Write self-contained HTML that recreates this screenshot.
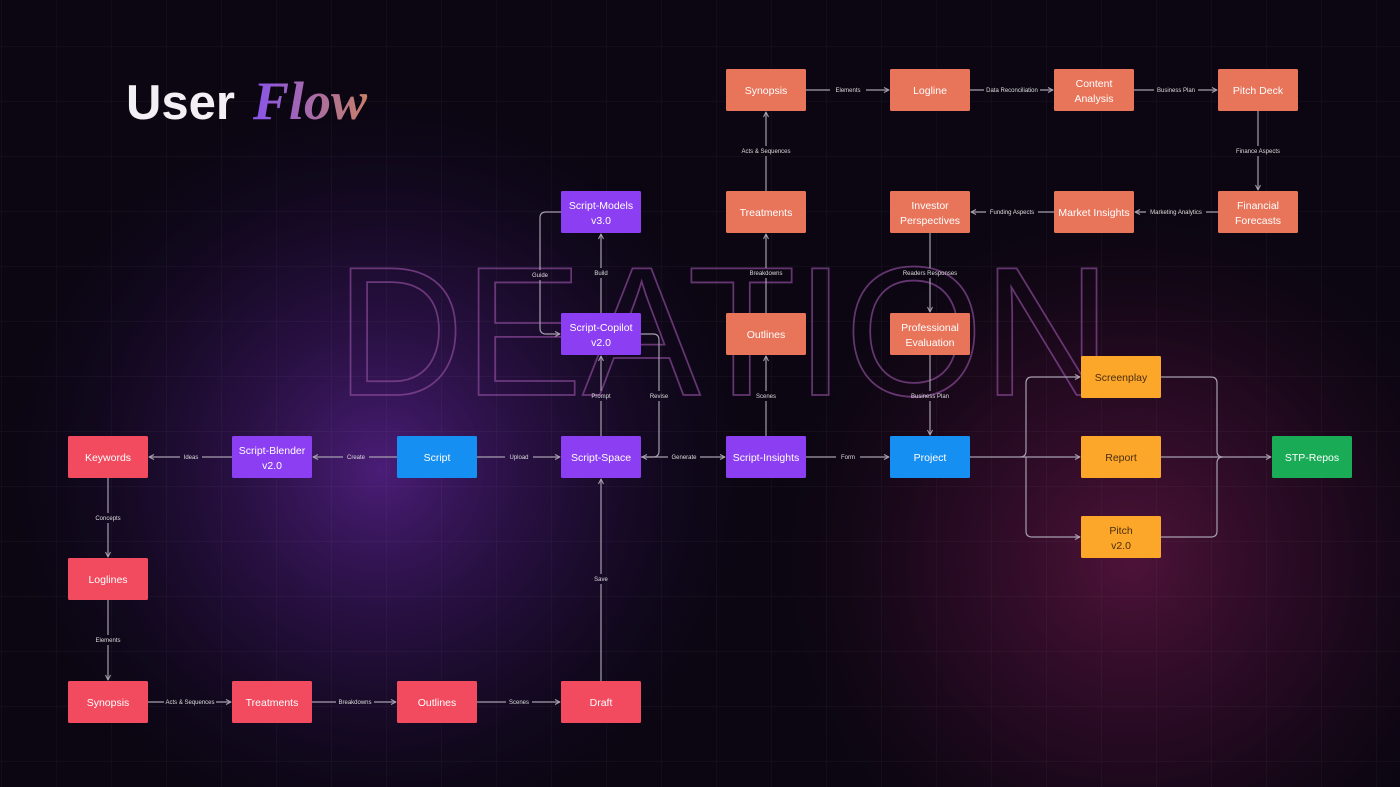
<!DOCTYPE html>
<html><head><meta charset="utf-8"><style>
html,body{margin:0;padding:0;background:#0b0612;}
svg{display:block}
.bx text{font-family:"Liberation Sans",sans-serif;font-size:10.5px;fill:#fff;text-anchor:middle;font-weight:400}
.lb{font-family:"Liberation Sans",sans-serif;font-size:6px;fill:#ddd;text-anchor:middle}
</style></head><body>
<svg width="1400" height="787" viewBox="0 0 1400 787" xmlns="http://www.w3.org/2000/svg">
<defs>
<radialGradient id="g1" cx="380" cy="470" r="380" gradientUnits="userSpaceOnUse">
<stop offset="0" stop-color="#5a2390" stop-opacity="0.8"/><stop offset="0.5" stop-color="#3a1660" stop-opacity="0.45"/><stop offset="1" stop-color="#1a0a30" stop-opacity="0"/></radialGradient>
<radialGradient id="g2" cx="1130" cy="560" r="360" gradientUnits="userSpaceOnUse">
<stop offset="0" stop-color="#5a1540" stop-opacity="0.85"/><stop offset="0.55" stop-color="#3a0d2e" stop-opacity="0.5"/><stop offset="1" stop-color="#200818" stop-opacity="0"/></radialGradient>
<linearGradient id="tf" x1="256" y1="0" x2="372" y2="0" gradientUnits="userSpaceOnUse">
<stop offset="0" stop-color="#8a55e8"/><stop offset="1" stop-color="#c98262"/></linearGradient>
<pattern id="grid" width="55" height="55" patternUnits="userSpaceOnUse" x="2" y="-8">
<path d="M55 0V55M0 55H55" fill="none" stroke="#ffffff" stroke-opacity="0.06" stroke-width="1"/></pattern>
<marker id="ar" viewBox="0 0 6 6" refX="5.5" refY="3" markerWidth="6" markerHeight="6" orient="auto" markerUnits="userSpaceOnUse">
<path d="M0.5 0.5L5.5 3L0.5 5.5" fill="none" stroke="#aaa3b0" stroke-width="1"/></marker>
<mask id="m" maskUnits="userSpaceOnUse" x="0" y="0" width="1400" height="787">
<rect width="1400" height="787" fill="#fff"/>
<g fill="#000">
<rect x="180" y="452" width="22" height="10"/><rect x="343" y="452" width="26" height="10"/><rect x="505" y="452" width="28" height="10"/>
<rect x="668" y="452" width="32" height="10"/><rect x="836" y="452" width="24" height="10"/>
<rect x="92" y="513" width="32" height="10"/><rect x="92" y="635" width="32" height="10"/>
<rect x="164" y="697" width="52" height="10"/><rect x="336" y="697" width="38" height="10"/><rect x="506" y="697" width="26" height="10"/>
<rect x="590" y="574" width="22" height="10"/><rect x="588" y="391" width="26" height="10"/><rect x="646" y="391" width="26" height="10"/>
<rect x="590" y="268" width="22" height="10"/><rect x="528" y="270" width="24" height="10"/>
<rect x="752" y="391" width="28" height="10"/><rect x="747" y="268" width="38" height="10"/><rect x="739" y="146" width="54" height="10"/>
<rect x="830" y="85" width="36" height="10"/><rect x="984" y="85" width="56" height="10"/><rect x="1154" y="85" width="44" height="10"/>
<rect x="1232" y="146" width="52" height="10"/><rect x="1146" y="207" width="60" height="10"/><rect x="986" y="207" width="52" height="10"/>
<rect x="900" y="268" width="60" height="10"/><rect x="908" y="391" width="44" height="10"/>
</g></mask>
</defs>
<rect width="1400" height="787" fill="#0b0612"/>
<rect width="1400" height="787" fill="url(#g1)"/>
<rect width="1400" height="787" fill="url(#g2)"/>
<rect width="1400" height="787" fill="url(#grid)"/>

<text x="336" y="395" textLength="775" lengthAdjust="spacingAndGlyphs" font-family="Liberation Sans,sans-serif" font-size="184" fill="none" stroke="#8a4a98" stroke-opacity="0.7" stroke-width="1.8">DEATION</text>

<text x="126" y="119" font-family="Liberation Sans,sans-serif" font-weight="700" font-size="49" fill="#f2f0f4">User</text>
<text x="253" y="119" font-family="Liberation Serif,serif" font-style="italic" font-weight="700" font-size="54" fill="url(#tf)">Flow</text>

<g fill="none" stroke="#a69eae" stroke-width="1.2" mask="url(#m)">
<path d="M232 457H149" marker-end="url(#ar)"/>
<path d="M397 457H313" marker-end="url(#ar)"/>
<path d="M477 457H560" marker-end="url(#ar)"/>
<path d="M641 457H725" marker-end="url(#ar)"/>
<path d="M806 457H889" marker-end="url(#ar)"/>
<path d="M108 478V557" marker-end="url(#ar)"/>
<path d="M108 600V680" marker-end="url(#ar)"/>
<path d="M148 702H231" marker-end="url(#ar)"/>
<path d="M312 702H396" marker-end="url(#ar)"/>
<path d="M477 702H560" marker-end="url(#ar)"/>
<path d="M601 681V479" marker-end="url(#ar)"/>
<path d="M601 436V356" marker-end="url(#ar)"/>
<path d="M601 313V234" marker-end="url(#ar)"/>
<path d="M561 212H546Q540 212 540 218V328Q540 334 546 334H560" marker-end="url(#ar)"/>
<path d="M641 334H653Q659 334 659 340V451Q659 457 653 457H642" marker-end="url(#ar)"/>
<path d="M766 436V356" marker-end="url(#ar)"/>
<path d="M766 313V234" marker-end="url(#ar)"/>
<path d="M766 191V112" marker-end="url(#ar)"/>
<path d="M806 90H889" marker-end="url(#ar)"/>
<path d="M970 90H1053" marker-end="url(#ar)"/>
<path d="M1134 90H1217" marker-end="url(#ar)"/>
<path d="M1258 111V190" marker-end="url(#ar)"/>
<path d="M1218 212H1135" marker-end="url(#ar)"/>
<path d="M1054 212H971" marker-end="url(#ar)"/>
<path d="M930 233V312" marker-end="url(#ar)"/>
<path d="M930 355V435" marker-end="url(#ar)"/>
<path d="M970 457H1080" marker-end="url(#ar)"/>
<path d="M1080 377H1032Q1026 377 1026 383V451Q1026 457 1020 457M1026 457Q1026 457 1026 463V531Q1026 537 1032 537H1080"/>
<path d="M1074 377H1080" marker-end="url(#ar)"/>
<path d="M1074 537H1080" marker-end="url(#ar)"/>
<path d="M1161 377H1211Q1217 377 1217 383V451Q1217 457 1223 457M1161 537H1211Q1217 537 1217 531V463Q1217 457 1223 457"/>
<path d="M1161 457H1271" marker-end="url(#ar)"/>
</g>

<g class="lb">
<text x="191" y="459">Ideas</text><text x="356" y="459">Create</text><text x="519" y="459">Upload</text>
<text x="684" y="459">Generate</text><text x="848" y="459">Form</text>
<text x="108" y="520">Concepts</text><text x="108" y="642">Elements</text>
<text x="190" y="704">Acts &amp; Sequences</text><text x="355" y="704">Breakdowns</text><text x="519" y="704">Scenes</text>
<text x="601" y="581">Save</text><text x="601" y="398">Prompt</text><text x="659" y="398">Revise</text>
<text x="601" y="275">Build</text><text x="540" y="277">Guide</text>
<text x="766" y="398">Scenes</text><text x="766" y="275">Breakdowns</text><text x="766" y="153">Acts &amp; Sequences</text>
<text x="848" y="92">Elements</text><text x="1012" y="92">Data Reconciliation</text><text x="1176" y="92">Business Plan</text>
<text x="1258" y="153">Finance Aspects</text><text x="1176" y="214">Marketing Analytics</text><text x="1012" y="214">Funding Aspects</text>
<text x="930" y="275">Readers Responses</text><text x="930" y="398">Business Plan</text>
</g>

<g class="bx">
<rect x="68" y="436" width="80" height="42" rx="1.5" fill="#f24a5e"/><text x="108" y="461">Keywords</text>
<rect x="68" y="558" width="80" height="42" rx="1.5" fill="#f24a5e"/><text x="108" y="583">Loglines</text>
<rect x="68" y="681" width="80" height="42" rx="1.5" fill="#f24a5e"/><text x="108" y="706">Synopsis</text>
<rect x="232" y="681" width="80" height="42" rx="1.5" fill="#f24a5e"/><text x="272" y="706">Treatments</text>
<rect x="397" y="681" width="80" height="42" rx="1.5" fill="#f24a5e"/><text x="437" y="706">Outlines</text>
<rect x="561" y="681" width="80" height="42" rx="1.5" fill="#f24a5e"/><text x="601" y="706">Draft</text>
<rect x="232" y="436" width="80" height="42" rx="1.5" fill="#8c3ef2"/><text x="272" y="454">Script-Blender</text><text x="272" y="469">v2.0</text>
<rect x="397" y="436" width="80" height="42" rx="1.5" fill="#168ff2"/><text x="437" y="461">Script</text>
<rect x="561" y="436" width="80" height="42" rx="1.5" fill="#8c3ef2"/><text x="601" y="461">Script-Space</text>
<rect x="561" y="313" width="80" height="42" rx="1.5" fill="#8c3ef2"/><text x="601" y="331">Script-Copilot</text><text x="601" y="346">v2.0</text>
<rect x="561" y="191" width="80" height="42" rx="1.5" fill="#8c3ef2"/><text x="601" y="209">Script-Models</text><text x="601" y="224">v3.0</text>
<rect x="726" y="436" width="80" height="42" rx="1.5" fill="#8c3ef2"/><text x="766" y="461">Script-Insights</text>
<rect x="890" y="436" width="80" height="42" rx="1.5" fill="#168ff2"/><text x="930" y="461">Project</text>
<rect x="726" y="313" width="80" height="42" rx="1.5" fill="#e8745a"/><text x="766" y="338">Outlines</text>
<rect x="726" y="191" width="80" height="42" rx="1.5" fill="#e8745a"/><text x="766" y="216">Treatments</text>
<rect x="726" y="69" width="80" height="42" rx="1.5" fill="#e8745a"/><text x="766" y="94">Synopsis</text>
<rect x="890" y="69" width="80" height="42" rx="1.5" fill="#e8745a"/><text x="930" y="94">Logline</text>
<rect x="1054" y="69" width="80" height="42" rx="1.5" fill="#e8745a"/><text x="1094" y="87">Content</text><text x="1094" y="102">Analysis</text>
<rect x="1218" y="69" width="80" height="42" rx="1.5" fill="#e8745a"/><text x="1258" y="94">Pitch Deck</text>
<rect x="1218" y="191" width="80" height="42" rx="1.5" fill="#e8745a"/><text x="1258" y="209">Financial</text><text x="1258" y="224">Forecasts</text>
<rect x="1054" y="191" width="80" height="42" rx="1.5" fill="#e8745a"/><text x="1094" y="216">Market Insights</text>
<rect x="890" y="191" width="80" height="42" rx="1.5" fill="#e8745a"/><text x="930" y="209">Investor</text><text x="930" y="224">Perspectives</text>
<rect x="890" y="313" width="80" height="42" rx="1.5" fill="#e8745a"/><text x="930" y="331">Professional</text><text x="930" y="346">Evaluation</text>
<rect x="1081" y="356" width="80" height="42" rx="1.5" fill="#fca62a"/><text x="1121" y="381" style="fill:#4a2e0c">Screenplay</text>
<rect x="1081" y="436" width="80" height="42" rx="1.5" fill="#fca62a"/><text x="1121" y="461" style="fill:#4a2e0c">Report</text>
<rect x="1081" y="516" width="80" height="42" rx="1.5" fill="#fca62a"/><text x="1121" y="534" style="fill:#4a2e0c">Pitch</text><text x="1121" y="549" style="fill:#4a2e0c">v2.0</text>
<rect x="1272" y="436" width="80" height="42" rx="1.5" fill="#19ab55"/><text x="1312" y="461">STP-Repos</text>
</g>
</svg>
</body></html>
